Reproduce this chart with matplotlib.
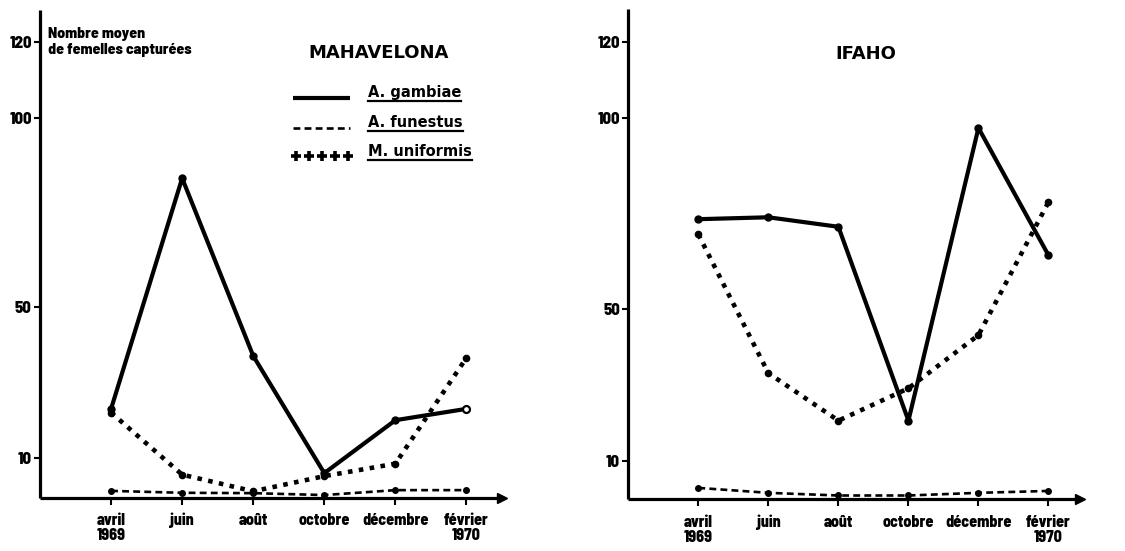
import matplotlib
matplotlib.use("Agg")
import matplotlib.pyplot as plt
from matplotlib.lines import Line2D

# Months of the survey (April 1969 - February 1970)
months = ["avril\n1969", "juin", "août", "octobre", "décembre", "février\n1970"]

# Mean number of females captured — Mahavelona
mah_gambiae = [23, 84, 37, 6, 20, 23]
mah_funestus = [1.3, 0.8, 0.7, 0.2, 1.5, 1.5]
mah_uniformis = [22, 5.6, 1.2, 5.2, 8.5, 36.5]

# Mean number of females captured — Ifaho
ifa_gambiae = [73.5, 74, 71.5, 20.5, 97.5, 64]
ifa_funestus = [2.8, 1.5, 0.8, 0.8, 1.5, 2.0]
ifa_uniformis = [69.5, 33, 20.5, 29, 43, 78]

yticks = [10, 50, 100, 120]
species = ["A. gambiae", "A. funestus", "M. uniformis"]

NARROW = ["Barlow Semi Condensed", "Barlow Condensed", "DejaVu Sans"]
W, H = 1125, 551

fig = plt.figure(figsize=(W / 100, H / 100), dpi=100)


def px_box(x0, x1, ytop, ybot):
    return [x0 / W, (H - ybot) / H, (x1 - x0) / W, (ybot - ytop) / H]


def fx(x):
    return x / W


def fy(y):
    return (H - y) / H


def setup_axis(ax, xmax, ylim):
    ax.set_xlim(-1, xmax)
    ax.set_ylim(*ylim)
    for s in ("top", "right"):
        ax.spines[s].set_visible(False)
    for s in ("left", "bottom"):
        ax.spines[s].set_linewidth(2.3)
        ax.spines[s].set_capstyle("butt")
    ax.set_yticks(yticks)
    ax.set_yticklabels([str(v) for v in yticks], family=NARROW,
                       fontweight="heavy", fontsize=12)
    ax.set_xticks(range(len(months)))
    ax.set_xticklabels(months, family=NARROW, fontweight="heavy",
                       fontsize=11.5, linespacing=1.0)
    ax.tick_params(axis="y", direction="out", length=4, width=1.5, pad=2)
    ax.tick_params(axis="x", direction="out", length=5, width=1.5, pad=6)
    ax.plot(1, 0, marker=">", color="black", ms=7, transform=ax.transAxes,
            clip_on=False)
    ax.patch.set_alpha(0)


def draw_series(ax, x, g, f, u, open_last=False):
    ax.plot(x, u, color="black", lw=3.3, linestyle=(0, (1, 1.4)),
            dash_capstyle="butt", clip_on=False, zorder=3)
    ax.plot(x, f, color="black", lw=1.9, linestyle=(0, (2.6, 1.6)),
            clip_on=False, zorder=3)
    ax.plot(x, f, "o", color="black", ms=4, clip_on=False, zorder=4)
    ax.plot(x, u, "o", color="black", ms=4.5, clip_on=False, zorder=4)
    ax.plot(x, g, color="black", lw=3.0, solid_capstyle="butt",
            clip_on=False, zorder=5)
    if open_last:
        ax.plot(x[:-1], g[:-1], "o", color="black", ms=5, zorder=6)
        ax.plot(x[-1:], g[-1:], "o", mfc="white", mec="black", mew=1.6,
                ms=5, zorder=6)
    else:
        ax.plot(x, g, "o", color="black", ms=5, zorder=6)


xpos = list(range(len(months)))

ax1 = fig.add_axes(px_box(40, 502, 10, 497.7))
setup_axis(ax1, 5.5, (-0.5, 128.5))
draw_series(ax1, xpos, mah_gambiae, mah_funestus, mah_uniformis,
            open_last=True)

ax2 = fig.add_axes(px_box(628.3, 1080, 9, 499.3))
setup_axis(ax2, 5.45, (-0.2, 128.8))
draw_series(ax2, xpos, ifa_gambiae, ifa_funestus, ifa_uniformis)

# Titles
fig.text(fx(379), fy(53), "MAHAVELONA", ha="center", va="center",
         fontsize=13, fontweight="bold", family="DejaVu Sans")
fig.text(fx(866), fy(54), "IFAHO", ha="center", va="center",
         fontsize=13, fontweight="bold", family="DejaVu Sans")

# Y axis caption
fig.text(fx(48), fy(42), "Nombre moyen\nde femelles capturées", ha="left",
         va="center", fontsize=11.3, fontweight="heavy", family=NARROW,
         linespacing=1.12)

# Legend (drawn by hand, underlined labels)
row_y = [97, 127, 156]
fig.add_artist(Line2D([fx(293), fx(350)], [fy(98), fy(98)], color="black",
                      lw=3.0, solid_capstyle="butt"))
fig.add_artist(Line2D([fx(293), fx(350)], [fy(128), fy(128)], color="black",
                      lw=1.9, linestyle=(0, (2.6, 1.6))))
fig.add_artist(Line2D([fx(x) for x in (296, 309, 322, 335, 348)],
                      [fy(156)] * 5, color="black", lw=0, marker="+",
                      ms=7, mew=2.6))

labels = []
for yb, name in zip(row_y, species):
    t = fig.text(fx(368), fy(yb), name, ha="left", va="baseline",
                 fontsize=10.5, fontweight="bold", family="DejaVu Sans")
    labels.append(t)

fig.canvas.draw()
renderer = fig.canvas.get_renderer()
for t, yb in zip(labels, row_y):
    bb = t.get_window_extent(renderer)
    fig.add_artist(Line2D([bb.x0 / W, bb.x1 / W], [fy(yb + 4)] * 2,
                          color="black", lw=1.6))

fig.savefig("out.png", dpi=100, facecolor="white")
